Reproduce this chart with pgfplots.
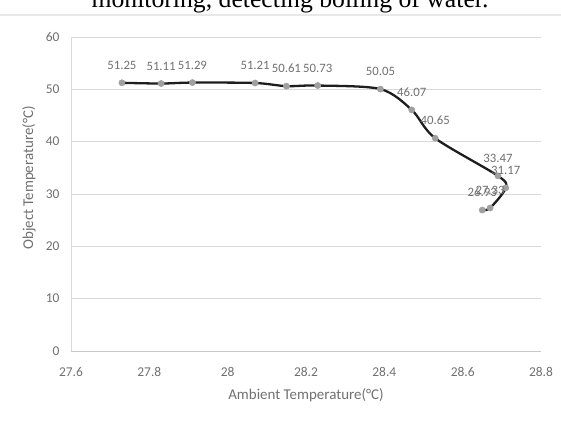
\documentclass[border=0pt]{standalone}
\usepackage{pgfplots}
\pgfplotsset{compat=1.18}
\usepackage{pgfplotstable}
\usepackage{fontspec}
\setmainfont{Carlito}
\newfontfamily\titleserif{Liberation Serif}
\definecolor{txt}{HTML}{707070}
\definecolor{gridc}{HTML}{D9D9D9}
\definecolor{axc}{HTML}{C8C8C8}
\definecolor{mk}{HTML}{A0A0A0}
\definecolor{ln}{HTML}{1E1E1E}

\pgfplotstableread{
x y lab
27.73 51.25 51.25
27.83 51.11 51.11
27.91 51.29 51.29
28.07 51.21 51.21
28.15 50.61 50.61
28.23 50.73 50.73
28.39 50.05 50.05
28.47 46.07 46.07
28.53 40.65 40.65
28.69 33.47 33.47
28.71 31.17 31.17
28.67 27.33 27.33
28.65 26.93 26.93
}\datatab

\begin{document}
\begin{tikzpicture}[x=1bp,y=1bp]
\useasboundingbox (0,0) rectangle (561,429);
\clip (0,0) rectangle (561,429);
\node[anchor=base, font=\titleserif\fontsize{25.8}{28}\selectfont, inner sep=0] at (290,421.5) {monitoring, detecting boiling of water.};
\draw[color=gray!18, line width=1.5bp] (0,414) -- (561,414);
\begin{axis}[
  at={(71bp,78bp)}, anchor=south west,
  scale only axis, width=470bp, height=314bp,
  xmin=27.6, xmax=28.8, ymin=0, ymax=60,
  xtick={27.6,27.8,28,28.2,28.4,28.6,28.8},
  xticklabels={27.6,27.8,28,28.2,28.4,28.6,28.8},
  ytick={0,10,20,30,40,50,60},
  yticklabels={0,10,20,30,40,50,60},
  major tick length=0pt,
  axis x line*=bottom, axis y line*=left,
  x axis line style={draw=axc, line width=1bp, -},
  y axis line style={draw=gridc, line width=1bp, -},
  ymajorgrids, grid style={draw=gridc, line width=0.9bp},
  tick label style={font=\fontsize{13.5}{15}\selectfont, text=txt},
  xticklabel style={anchor=center, yshift=-21bp},
  yticklabel style={anchor=east, xshift=-8bp},
  xlabel={Ambient Temperature(°C)},
  ylabel={Object Temperature(°C)},
  label style={font=\fontsize{15}{17}\selectfont, text=txt},
  xlabel style={at={(axis description cs:0.5,-0.140)}, anchor=center},
  ylabel style={at={(axis description cs:-0.0894,0.551)}, anchor=center},
  clip=false,
]
\addplot[color=ln, line width=2.3bp, smooth, tension=0.5,
  mark=*, mark size=3.1bp, mark options={draw=mk, fill=mk, line width=0.5bp},
  point meta=explicit symbolic,
  nodes near coords,
  nodes near coords style={font=\fontsize{12.8}{14}\selectfont, text=txt, anchor=south, yshift=12bp, inner sep=1bp},
] table[x=x, y=y, meta=lab] {\datatab};
\end{axis}
\end{tikzpicture}
\end{document}
